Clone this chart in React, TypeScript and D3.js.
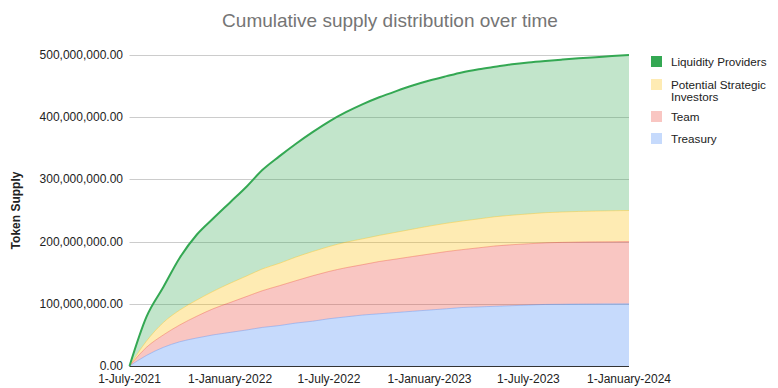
import { useEffect, useRef } from 'react';
import * as d3 from 'd3';

// monthly points, 1-July-2021 .. 1-January-2024 (values in millions of tokens)
const months = d3.timeMonth.range(new Date(2021, 6, 1), new Date(2024, 0, 2));

const treasury = [0, 17, 30, 39, 45, 50, 54, 58, 62, 65, 69, 72, 76, 79, 82, 84, 86, 88, 90, 92, 94, 95, 96, 97, 98, 99, 99.3, 99.6, 99.8, 99.9, 100];
const team = [0, 13, 20, 27, 35, 42, 48, 54, 59, 64, 68, 73, 76, 79, 81, 84, 86, 88, 90, 92, 93, 95, 97, 98, 98.5, 99, 99.5, 99.7, 99.8, 99.9, 100];
const strategic = [0, 10, 20, 24, 26, 28, 31, 33, 35, 36, 38, 39, 40, 41, 41.5, 42, 43, 44, 45, 45.5, 46, 46.5, 47, 47.5, 48, 48.5, 48.8, 49.2, 49.5, 49.8, 50];
const liquidity = [0, 39, 57, 84, 105, 117, 130, 144, 159, 172, 182, 192, 201, 209, 216.5, 222, 227, 231, 234, 236.5, 239, 240.5, 241, 242.5, 243.5, 244, 245.1, 246.2, 247.4, 248.7, 250];

const seriesNames = ['Treasury', 'Team', 'Potential Strategic Investors', 'Liquidity Providers'];
const seriesColors = ['#4285f4', '#ea4335', '#fbbc04', '#34a853'];
const yTicks = [0, 100e6, 200e6, 300e6, 400e6, 500e6];
const xTicks = [
  new Date(2021, 6, 1), new Date(2022, 0, 1), new Date(2022, 6, 1),
  new Date(2023, 0, 1), new Date(2023, 6, 1), new Date(2024, 0, 1),
];

const W = 778;
const H = 388;

const App = () => {
  const svgRef = useRef<SVGSVGElement>(null);

  useEffect(() => {
    const svg = d3.select(svgRef.current);
    svg.selectAll('*').remove();
    const font = 'Arial, "Liberation Sans", sans-serif';

    const rows = months.map((m, i) => ({
      date: m,
      Treasury: treasury[i] * 1e6,
      Team: team[i] * 1e6,
      'Potential Strategic Investors': strategic[i] * 1e6,
      'Liquidity Providers': liquidity[i] * 1e6,
    }));

    const x = d3.scaleTime()
      .domain([xTicks[0], xTicks[xTicks.length - 1]])
      .range([129.5, 629]);
    const y = d3.scaleLinear().domain([0, 500e6]).range([366, 55]);

    // title
    svg.append('text')
      .attr('x', 390).attr('y', 27)
      .attr('text-anchor', 'middle')
      .style('font-family', font).style('font-size', '19px')
      .attr('fill', '#757575')
      .text('Cumulative supply distribution over time');

    // gridlines + y labels
    svg.append('g').selectAll('line')
      .data(yTicks.slice(1))
      .join('line')
      .attr('x1', 129.5).attr('x2', 629)
      .attr('y1', d => Math.round(y(d)) + 0.5).attr('y2', d => Math.round(y(d)) + 0.5)
      .attr('stroke', '#cccccc');

    svg.append('g').selectAll('text')
      .data(yTicks)
      .join('text')
      .attr('x', 123).attr('y', d => y(d) + 4)
      .attr('text-anchor', 'end')
      .style('font-family', font).style('font-size', '12px')
      .attr('fill', '#222')
      .text(d => d3.format(',.2f')(d));

    svg.append('text')
      .attr('transform', `translate(20,${y(250e6)}) rotate(-90)`)
      .attr('text-anchor', 'middle')
      .style('font-family', font).style('font-size', '12px').style('font-weight', 'bold')
      .attr('fill', '#222')
      .text('Token Supply');

    // stacked areas
    const stack = d3.stack<any>().keys(seriesNames);
    const layers = stack(rows);
    const area = d3.area<any>()
      .x(d => x(d.data.date))
      .y0(d => y(d[0]))
      .y1(d => y(d[1]))
      .curve(d3.curveMonotoneX);
    const line = d3.line<any>()
      .x(d => x(d.data.date))
      .y(d => y(d[1]))
      .curve(d3.curveMonotoneX);

    const g = svg.append('g');
    g.selectAll('path.area')
      .data(layers)
      .join('path')
      .attr('class', 'area')
      .attr('d', area)
      .attr('fill', (d, i) => seriesColors[i])
      .attr('fill-opacity', 0.3);

    g.selectAll('path.edge')
      .data(layers)
      .join('path')
      .attr('class', 'edge')
      .attr('d', line)
      .attr('fill', 'none')
      .attr('stroke', (d, i) => seriesColors[i])
      .attr('stroke-width', (d, i) => (i === 3 ? 2 : 1))
      .attr('stroke-opacity', (d, i) => (i === 3 ? 1 : 0.35));

    // baseline
    svg.append('line')
      .attr('x1', 129.5).attr('x2', 629)
      .attr('y1', 366.5).attr('y2', 366.5)
      .attr('stroke', '#333');

    // x labels
    svg.append('g').selectAll('text')
      .data(xTicks)
      .join('text')
      .attr('x', d => x(d)).attr('y', 383)
      .attr('text-anchor', 'middle')
      .style('font-family', font).style('font-size', '12px')
      .attr('fill', '#222')
      .text(d => d3.timeFormat('%-d-%B-%Y')(d));

    // legend
    const legend = [
      { name: ['Liquidity Providers'], color: seriesColors[3], op: 1, y: 62 },
      { name: ['Potential Strategic', 'Investors'], color: seriesColors[2], op: 0.3, y: 85 },
      { name: ['Team'], color: seriesColors[1], op: 0.3, y: 117 },
      { name: ['Treasury'], color: seriesColors[0], op: 0.3, y: 139 },
    ];
    const lg = svg.append('g').selectAll('g').data(legend).join('g');
    lg.append('rect')
      .attr('x', 651).attr('y', d => d.y - 6)
      .attr('width', 11).attr('height', 11)
      .attr('fill', d => d.color).attr('fill-opacity', d => d.op);
    lg.append('text')
      .attr('x', 671).attr('y', d => d.y + 4)
      .style('font-family', font).style('font-size', '11.7px')
      .attr('fill', '#222')
      .selectAll('tspan')
      .data(d => d.name)
      .join('tspan')
      .attr('x', 671)
      .attr('dy', (d, i) => (i === 0 ? 0 : 12))
      .text(d => d);
  }, []);

  return (
    <svg
      ref={svgRef}
      width={W}
      height={H}
      style={{ position: 'absolute', left: 0, top: 0, background: '#fff' }}
    />
  );
};

export default App;
